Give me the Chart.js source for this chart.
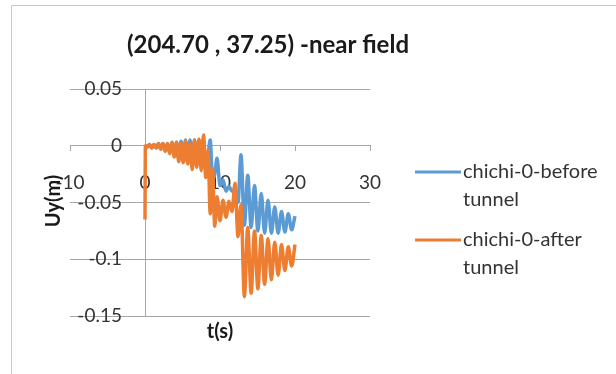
<!DOCTYPE html>
<html>
<head>
<meta charset="utf-8">
<script src="https://cdn.jsdelivr.net/npm/chart.js@4"></script>
<style>
    html, body { margin: 0; padding: 0; background: #fff; }
    canvas { display: block; }
</style>
</head>
<body>
<canvas id="myChart" width="616" height="374"></canvas>
<script>
let chartTitle = '(204.70 , 37.25) -near field';
let xTitle = 't(s)';
let yTitle = 'Uy(m)';
let seriesNames = ['chichi-0-before tunnel', 'chichi-0-after tunnel'];
let seriesColors = ['#5B9BD5', '#ED7D31'];

let xTicks = [-10, 0, 10, 20, 30];
let yTicks = [-0.15, -0.1, -0.05, 0, 0.05];

// time (s)
let timeS = [
    0, 0.05,
    0.3, 0.6, 0.9, 1.2, 1.5, 1.8, 2.1, 2.4, 2.7, 3.0,
    3.3, 3.6, 3.9, 4.2, 4.5, 4.8, 5.1, 5.4, 5.7, 6.0,
    6.3, 6.6, 6.9, 7.2, 7.5, 7.8, 8.1, 8.4, 8.7,
    9.0, 9.3, 9.6,
    10.0, 10.4, 10.8, 11.2, 11.6, 12.0, 12.4, 12.8,
    13.25, 13.7, 14.15, 14.6, 15.05, 15.5, 15.95, 16.4,
    16.85, 17.3, 17.75, 18.2, 18.65, 19.1, 19.55, 20.0
];

// Uy (m) before tunnel
let beforeTunnel = [
    0, 0,
    -0.001, 0.001, -0.002, 0.001, -0.002, 0.002, -0.003, 0.002, -0.004, 0.002,
    -0.006, 0.003, -0.008, 0.003, -0.011, 0.004, -0.012, 0.005, -0.013, 0.005,
    -0.016, 0.005, -0.015, 0.005, -0.018, 0.006, -0.020, -0.008, 0.005,
    -0.030, -0.025, -0.011,
    -0.035, -0.030, -0.040, -0.036, -0.040, -0.038, -0.050, -0.008,
    -0.070, -0.026, -0.072, -0.035, -0.075, -0.042, -0.077, -0.048,
    -0.077, -0.054, -0.077, -0.058, -0.076, -0.060, -0.074, -0.062
];

// Uy (m) after tunnel
let afterTunnel = [
    -0.065, 0,
    -0.001, 0.001, -0.002, 0.001, -0.002, 0.002, -0.003, 0.002, -0.005, 0.002,
    -0.007, 0.003, -0.010, 0.003, -0.014, 0.002, -0.015, 0.004, -0.016, 0.002,
    -0.021, 0.005, -0.019, 0.006, -0.022, 0.0095, -0.028, -0.004, -0.060,
    -0.020, -0.071, -0.045,
    -0.066, -0.048, -0.063, -0.049, -0.058, -0.033, -0.080, -0.052,
    -0.133, -0.072, -0.130, -0.075, -0.126, -0.079, -0.122, -0.082,
    -0.118, -0.085, -0.114, -0.087, -0.110, -0.089, -0.106, -0.087
];

// where the value labels of the y axis sit, in t units (left of the axis line)
let yLabelAt = -3.07;

function toPoints(values) {
    return values.map((v, i) => ({ x: timeS[i], y: v }));
}

function wrapText(ctx, text, maxWidth) {
    let words = text.split(' ');
    let lines = [];
    let line = '';
    for (let w of words) {
        let test = line ? line + ' ' + w : w;
        if (line && ctx.measureText(test).width > maxWidth) {
            lines.push(line);
            line = w;
        } else {
            line = test;
        }
    }
    if (line) lines.push(line);
    return lines;
}

// title, axis titles, legend and frame drawn like the Excel chart
const excelText = {
    id: 'excelText',
    afterDraw(chart) {
        const ctx = chart.ctx;
        ctx.save();

        ctx.strokeStyle = '#c8c8c8';
        ctx.lineWidth = 1;
        ctx.beginPath();
        ctx.moveTo(11.5, 374);
        ctx.lineTo(11.5, 5.5);
        ctx.lineTo(616, 5.5);
        ctx.stroke();

        ctx.fillStyle = '#1a1a1a';
        ctx.textAlign = 'center';
        ctx.textBaseline = 'middle';
        ctx.font = 'bold 24px Lato';
        ctx.fillText(chartTitle, 268, 45);

        ctx.font = 'bold 20px Lato';
        ctx.fillText(xTitle, 220, 332);
        ctx.save();
        ctx.translate(54, 201);
        ctx.rotate(-Math.PI / 2);
        ctx.fillText(yTitle, 0, 0);
        ctx.restore();

        ctx.font = '20px Lato';
        ctx.textAlign = 'left';
        ctx.fillStyle = '#333';
        for (let i = 0; i < seriesNames.length; i++) {
            let y0 = 172 + i * 68;
            ctx.strokeStyle = seriesColors[i];
            ctx.lineWidth = 3;
            ctx.beginPath();
            ctx.moveTo(415, y0);
            ctx.lineTo(461, y0);
            ctx.stroke();
            let lines = wrapText(ctx, seriesNames[i], 150);
            lines.forEach((l, k) => ctx.fillText(l, 463, y0 + k * 28));
        }
        ctx.restore();
    }
};

Chart.defaults.font.family = 'Lato, "Open Sans", sans-serif';
Chart.defaults.color = '#333';

const ctx = document.getElementById('myChart');

new Chart(ctx, {
    type: 'scatter',
    data: {
        datasets: [{
            label: seriesNames[0],
            data: toPoints(beforeTunnel),
            borderColor: seriesColors[0],
            backgroundColor: seriesColors[0],
            borderWidth: 3.5,
            pointRadius: 0,
            showLine: true,
            cubicInterpolationMode: 'monotone',
            order: 1
        }, {
            label: seriesNames[1],
            data: toPoints(afterTunnel),
            borderColor: seriesColors[1],
            backgroundColor: seriesColors[1],
            borderWidth: 3.5,
            pointRadius: 0,
            showLine: true,
            cubicInterpolationMode: 'monotone',
            order: 0
        }]
    },
    options: {
        responsive: false,
        animation: false,
        layout: {
            padding: { left: 70, right: 246, top: 89, bottom: 58 }
        },
        scales: {
            x: {
                type: 'linear',
                min: -10,
                max: 30,
                position: { y: 0 },
                afterBuildTicks: axis => { axis.ticks = xTicks.map(v => ({ value: v })); },
                grid: {
                    drawOnChartArea: false,
                    drawTicks: true,
                    tickLength: 5,
                    color: '#a6a6a6'
                },
                border: { display: true, color: '#a6a6a6', width: 1 },
                ticks: {
                    padding: 21,
                    font: { size: 19 },
                    color: '#333'
                }
            },
            y: {
                type: 'linear',
                min: -0.15,
                max: 0.05,
                position: { x: 0 },
                afterBuildTicks: axis => { axis.ticks = yTicks.map(v => ({ value: v })); },
                grid: {
                    color: '#a6a6a6',
                    tickLength: 5
                },
                border: { display: true, color: '#a6a6a6', width: 1 },
                ticks: { display: false }
            },
            yLabels: {
                axis: 'y',
                type: 'linear',
                min: -0.15,
                max: 0.05,
                position: { x: yLabelAt },
                afterBuildTicks: axis => { axis.ticks = yTicks.map(v => ({ value: v })); },
                grid: { display: false },
                border: { display: false },
                ticks: {
                    font: { size: 19 },
                    color: '#333',
                    callback: v => String(Number(v.toFixed(2)))
                }
            }
        },
        plugins: {
            legend: { display: false },
            tooltip: { enabled: false }
        }
    },
    plugins: [excelText]
});
</script>
</body>
</html>
